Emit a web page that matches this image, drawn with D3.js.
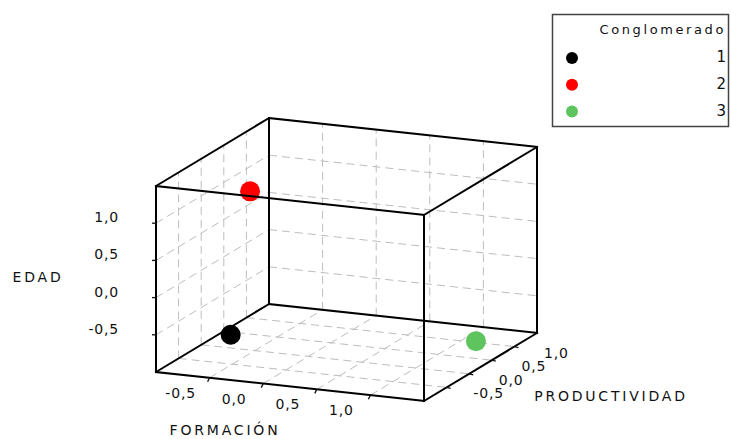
<!DOCTYPE html>
<html>
<head>
<meta charset="utf-8">
<script src="https://cdn.jsdelivr.net/npm/d3@7"></script>
<style>
  body { margin: 0; background: #fff; }
  text { font-family: "DejaVu Sans", Verdana, sans-serif; fill: #111; }
</style>
</head>
<body>
<div id="chart"></div>
<script>
// cluster centres (standardised values)
const clusters = ["1", "2", "3"];
const clusterColors = ["#000000", "#ff0000", "#5ec45e"];
const formacion = [-0.43, -0.46, 1.31];
const edad = [-0.52, 1.22, -0.81];
const productividad = [-0.70, -0.20, 0.60];
const axisTicks = [-0.5, 0, 0.5, 1.0];
const axisDomain = [-1, 1.5];

const width = 731;
const height = 439;

const fmt = d3.formatLocale({
  decimal: ",",
  thousands: ".",
  grouping: [3],
  currency: ["", ""],
  minus: "-"
}).format(".1f");

// oblique projection of the cube
const origin = [156, 372];
const vx = [268, 29];
const vy = [0, -186];
const vz = [113, -68];
const fx = d3.scaleLinear().domain(axisDomain).range([0, 1]);
const fy = d3.scaleLinear().domain(axisDomain).range([0, 1]);
const fz = d3.scaleLinear().domain(axisDomain).range([0, 1]);

const proj = (x, y, z) => {
  const a = fx(x), b = fy(y), c = fz(z);
  return [
    origin[0] + a * vx[0] + b * vy[0] + c * vz[0],
    origin[1] + a * vx[1] + b * vy[1] + c * vz[1]
  ];
};

const lo = axisDomain[0], hi = axisDomain[1];

const svg = d3
  .select("#chart")
  .append("svg")
  .attr("width", width)
  .attr("height", height);

// grid lines on back wall, left wall and floor
const grid = [];
axisTicks.forEach(t => {
  grid.push([proj(t, lo, hi), proj(t, hi, hi)]); // back wall vertical
  grid.push([proj(lo, t, hi), proj(hi, t, hi)]); // back wall horizontal
  grid.push([proj(lo, lo, t), proj(lo, hi, t)]); // left wall vertical
  grid.push([proj(lo, t, lo), proj(lo, t, hi)]); // left wall horizontal
  grid.push([proj(t, lo, lo), proj(t, lo, hi)]); // floor along depth
  grid.push([proj(lo, lo, t), proj(hi, lo, t)]); // floor along x
});

svg
  .append("g")
  .attr("stroke", "#bdbdbd")
  .attr("stroke-width", 1)
  .attr("stroke-dasharray", "8,5")
  .selectAll("line")
  .data(grid)
  .join("line")
  .attr("x1", d => d[0][0])
  .attr("y1", d => d[0][1])
  .attr("x2", d => d[1][0])
  .attr("y2", d => d[1][1]);

// points
const points = clusters.map((c, i) => ({
  c,
  color: clusterColors[i],
  p: proj(formacion[i], edad[i], productividad[i])
}));

svg
  .append("g")
  .selectAll("circle")
  .data(points)
  .join("circle")
  .attr("cx", d => d.p[0])
  .attr("cy", d => d.p[1])
  .attr("r", 10)
  .attr("fill", d => d.color);

// cube edges
const corners = [];
[lo, hi].forEach(x => [lo, hi].forEach(y => [lo, hi].forEach(z => corners.push([x, y, z]))));
const edges = [];
corners.forEach((a, i) => {
  corners.forEach((b, j) => {
    if (j <= i) return;
    const diff = a.filter((v, k) => v !== b[k]).length;
    if (diff === 1) edges.push([proj(...a), proj(...b)]);
  });
});

svg
  .append("g")
  .attr("stroke", "#000")
  .attr("stroke-width", 2)
  .attr("stroke-linecap", "square")
  .selectAll("line")
  .data(edges)
  .join("line")
  .attr("x1", d => d[0][0])
  .attr("y1", d => d[0][1])
  .attr("x2", d => d[1][0])
  .attr("y2", d => d[1][1]);

// ticks
const tickG = svg.append("g").attr("stroke", "#111").attr("stroke-width", 1.3);
const labelG = svg.append("g").style("font-size", "14px").style("letter-spacing", "0.8px");

axisTicks.forEach(t => {
  // EDAD on front-left edge
  const pe = proj(lo, t, lo);
  tickG.append("line").attr("x1", pe[0]).attr("y1", pe[1]).attr("x2", pe[0] - 4).attr("y2", pe[1]);
  labelG.append("text")
    .attr("x", pe[0] - 37)
    .attr("y", pe[1] - 5)
    .attr("text-anchor", "end")
    .attr("dominant-baseline", "middle")
    .text(fmt(t));

  // FORMACIÓN on front-bottom edge
  const pf = proj(t, lo, lo);
  tickG.append("line").attr("x1", pf[0]).attr("y1", pf[1]).attr("x2", pf[0] - 2).attr("y2", pf[1] + 4);
  labelG.append("text")
    .attr("x", pf[0] - 29)
    .attr("y", pf[1] + 16)
    .attr("text-anchor", "middle")
    .attr("dominant-baseline", "middle")
    .text(fmt(t));

  // PRODUCTIVIDAD on bottom-right depth edge
  const pp = proj(hi, lo, t);
  tickG.append("line").attr("x1", pp[0]).attr("y1", pp[1]).attr("x2", pp[0] + 4).attr("y2", pp[1] + 1);
  labelG.append("text")
    .attr("x", pp[0] + 42)
    .attr("y", pp[1] + 7)
    .attr("text-anchor", "middle")
    .attr("dominant-baseline", "middle")
    .text(fmt(t));
});

// axis titles
const titles = [
  { text: "EDAD", x: 38, y: 278 },
  { text: "FORMACIÓN", x: 225, y: 431 },
  { text: "PRODUCTIVIDAD", x: 611, y: 397 }
];
svg
  .append("g")
  .style("font-size", "14px")
  .style("letter-spacing", "2.8px")
  .selectAll("text")
  .data(titles)
  .join("text")
  .attr("x", d => d.x)
  .attr("y", d => d.y)
  .attr("text-anchor", "middle")
  .attr("dominant-baseline", "middle")
  .text(d => d.text);

// legend
const legend = svg.append("g");
legend
  .append("rect")
  .attr("x", 552.5)
  .attr("y", 14.5)
  .attr("width", 176)
  .attr("height", 112)
  .attr("fill", "#fff")
  .attr("stroke", "#444")
  .attr("stroke-width", 1.5);

legend
  .append("text")
  .attr("x", 726)
  .attr("y", 30)
  .attr("text-anchor", "end")
  .attr("dominant-baseline", "middle")
  .style("font-size", "13px")
  .style("letter-spacing", "2.6px")
  .text("Conglomerado");

const rows = legend
  .selectAll("g.row")
  .data(clusters)
  .join("g")
  .attr("class", "row")
  .attr("transform", (d, i) => `translate(0,${57.5 + i * 26.8})`);

rows
  .append("circle")
  .attr("cx", 572)
  .attr("cy", 0.5)
  .attr("r", 6)
  .attr("fill", (d, i) => clusterColors[i]);

rows
  .append("text")
  .attr("x", 726)
  .attr("y", 0)
  .attr("text-anchor", "end")
  .attr("dominant-baseline", "middle")
  .style("font-size", "15px")
  .text(d => d);
</script>
</body>
</html>
